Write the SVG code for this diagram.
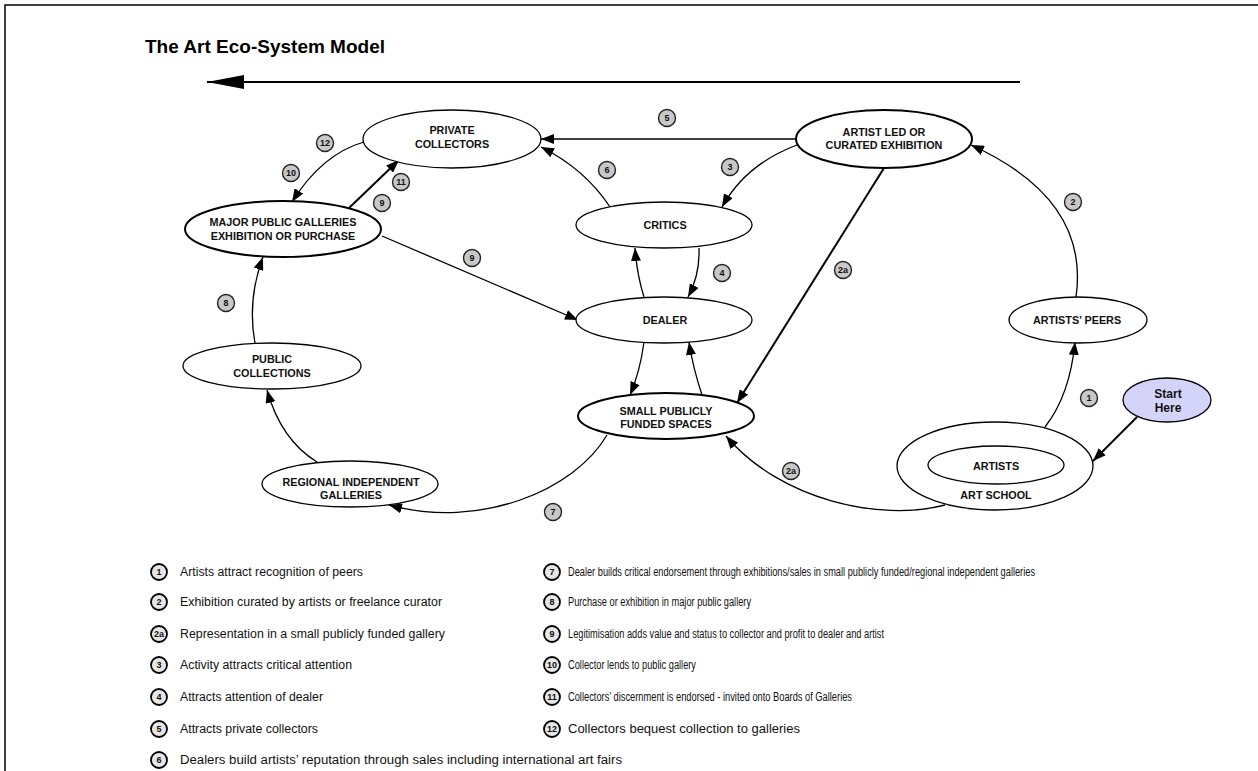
<svg xmlns="http://www.w3.org/2000/svg" width="1258" height="771" viewBox="0 0 1258 771">
<style>
.node{fill:#fff;stroke:#000;stroke-width:1.3}
.thick{stroke-width:2}
.start{fill:#d4d4fa;stroke:#000;stroke-width:1.3}
.lbl{font-family:"Liberation Sans",Arial,sans-serif;font-weight:bold;font-size:10.8px;fill:#111;text-anchor:middle}
.big{font-size:12px}
.con{fill:none;stroke:#000;stroke-width:1.3}
.con2{fill:none;stroke:#000;stroke-width:2}
.badge{fill:#c8c8c8;stroke:#222;stroke-width:1.4}
.lbadge{fill:#e6e6e6;stroke:#000;stroke-width:1.8}
.bt{font-family:"Liberation Sans",Arial,sans-serif;font-weight:bold;font-size:9px;fill:#111;text-anchor:middle}
.leg{font-family:"Liberation Sans",Arial,sans-serif;font-size:12px;fill:#111}
.title{font-family:"Liberation Sans",Arial,sans-serif;font-weight:bold;font-size:19px;fill:#000}
</style>
<defs>
<marker id="ah" markerUnits="userSpaceOnUse" markerWidth="13" markerHeight="10" refX="13" refY="5" orient="auto">
<path d="M0,0 L13,5 L0,10 z" fill="#000"/>
</marker>
<marker id="bigah" markerUnits="userSpaceOnUse" markerWidth="37" markerHeight="14" refX="37" refY="7" orient="auto">
<path d="M0,0 L37,7 L0,14 z" fill="#000"/>
</marker>
</defs>
<g id="frame">
<path d="M5,771 L5,5 L1258,5" fill="none" stroke="#000" stroke-width="1.5"/>
</g>
<text class="title" x="145" y="53">The Art Eco-System Model</text>
<g id="connectors">
<path class="con2" d="M1020,82 L207,82" marker-end="url(#bigah)"/>
<path class="con" d="M797,139 L541,139" marker-end="url(#ah)"/>
<path class="con" d="M797,145 Q746,164 722,207" marker-end="url(#ah)"/>
<path class="con" d="M610,207 Q585,169 541,147" marker-end="url(#ah)"/>
<path class="con" d="M699,248 Q700,275 688,297" marker-end="url(#ah)"/>
<path class="con" d="M644,297 Q637,275 635,248" marker-end="url(#ah)"/>
<path class="con" d="M644,342 Q640,372 630,395" marker-end="url(#ah)"/>
<path class="con" d="M702,395 Q693,368 689,342" marker-end="url(#ah)"/>
<path class="con2" d="M884,168 L737,403" marker-end="url(#ah)"/>
<path class="con" d="M382,236 L578,320" marker-end="url(#ah)"/>
<path class="con2" d="M349,208 L399,160" marker-end="url(#ah)"/>
<path class="con" d="M364,142 Q322,154 292,202" marker-end="url(#ah)"/>
<path class="con" d="M255,343 Q247,300 263,257" marker-end="url(#ah)"/>
<path class="con" d="M317,462 Q281,440 267,390" marker-end="url(#ah)"/>
<path class="con" d="M607,435 C575,490 480,530 389,505" marker-end="url(#ah)"/>
<path class="con" d="M945,505 C880,522 780,500 726,436" marker-end="url(#ah)"/>
<path class="con" d="M1045,427 Q1070,395 1075,342" marker-end="url(#ah)"/>
<path class="con" d="M1076,297 Q1090,199 971,145" marker-end="url(#ah)"/>
<path class="con2" d="M1137,417 L1093,461" marker-end="url(#ah)"/>
</g>
<g id="private-collectors">
<ellipse class="node" cx="452" cy="139" rx="89" ry="29"/>
<text class="lbl" x="452" y="134">PRIVATE</text>
<text class="lbl" x="452" y="148">COLLECTORS</text>
</g>
<g id="major-public-galleries">
<ellipse class="node thick" cx="283" cy="229" rx="98" ry="28"/>
<text class="lbl" x="283" y="226">MAJOR PUBLIC GALLERIES</text>
<text class="lbl" x="283" y="240">EXHIBITION OR PURCHASE</text>
</g>
<g id="artist-led">
<ellipse class="node thick" cx="884" cy="139" rx="88" ry="29"/>
<text class="lbl" x="884" y="135.5">ARTIST LED OR</text>
<text class="lbl" x="884" y="148.5">CURATED EXHIBITION</text>
</g>
<g id="critics">
<ellipse class="node" cx="664" cy="225" rx="88" ry="23"/>
<text class="lbl" x="665" y="229">CRITICS</text>
</g>
<g id="dealer">
<ellipse class="node" cx="664" cy="320" rx="88" ry="23"/>
<text class="lbl" x="665" y="324">DEALER</text>
</g>
<g id="small-publicly-funded">
<ellipse class="node thick" cx="666" cy="416" rx="88" ry="23"/>
<text class="lbl" x="666" y="415">SMALL PUBLICLY</text>
<text class="lbl" x="666" y="428">FUNDED SPACES</text>
</g>
<g id="artists-peers">
<ellipse class="node" cx="1078" cy="320" rx="69" ry="23"/>
<text class="lbl" x="1077" y="324">ARTISTS’ PEERS</text>
</g>
<g id="start-here">
<ellipse class="start" cx="1167" cy="400" rx="44" ry="22"/>
<text class="lbl big" x="1168" y="398">Start</text>
<text class="lbl big" x="1168" y="412">Here</text>
</g>
<g id="art-school">
<ellipse class="node" cx="995" cy="466" rx="98" ry="44"/>
<text class="lbl" x="996" y="499">ART SCHOOL</text>
</g>
<g id="artists">
<ellipse class="node" cx="996" cy="465" rx="68" ry="19"/>
<text class="lbl" x="996" y="470">ARTISTS</text>
</g>
<g id="public-collections">
<ellipse class="node" cx="272" cy="366" rx="89" ry="23"/>
<text class="lbl" x="272" y="363">PUBLIC</text>
<text class="lbl" x="272" y="377">COLLECTIONS</text>
</g>
<g id="regional-galleries">
<ellipse class="node" cx="350" cy="484" rx="88" ry="23"/>
<text class="lbl" x="351" y="486">REGIONAL INDEPENDENT</text>
<text class="lbl" x="351" y="499">GALLERIES</text>
</g>
<g id="badges">
<circle class="badge" cx="667" cy="118" r="8.5"/><text class="bt" x="667" y="121">5</text>
<circle class="badge" cx="730" cy="167" r="8.5"/><text class="bt" x="730" y="170">3</text>
<circle class="badge" cx="607" cy="170" r="8.5"/><text class="bt" x="607" y="173">6</text>
<circle class="badge" cx="722" cy="273" r="8.5"/><text class="bt" x="722" y="276">4</text>
<circle class="badge" cx="843" cy="270" r="8.5"/><text class="bt" x="843" y="273">2a</text>
<circle class="badge" cx="325" cy="143" r="8.5"/><text class="bt" x="325" y="146">12</text>
<circle class="badge" cx="291" cy="173" r="8.5"/><text class="bt" x="291" y="176">10</text>
<circle class="badge" cx="401" cy="182" r="8.5"/><text class="bt" x="401" y="185">11</text>
<circle class="badge" cx="382" cy="203" r="8.5"/><text class="bt" x="382" y="206">9</text>
<circle class="badge" cx="472" cy="258" r="8.5"/><text class="bt" x="472" y="261">9</text>
<circle class="badge" cx="226" cy="303" r="8.5"/><text class="bt" x="226" y="306">8</text>
<circle class="badge" cx="553" cy="512" r="8.5"/><text class="bt" x="553" y="515">7</text>
<circle class="badge" cx="791" cy="471" r="8.5"/><text class="bt" x="791" y="474">2a</text>
<circle class="badge" cx="1089" cy="398" r="8.5"/><text class="bt" x="1089" y="401">1</text>
<circle class="badge" cx="1073" cy="202" r="8.5"/><text class="bt" x="1073" y="205">2</text>
</g>
<g id="legend">
<circle class="lbadge" cx="159" cy="572" r="8"/><text class="bt" x="159" y="575">1</text>
<text class="leg" x="180" y="576" textLength="183" lengthAdjust="spacingAndGlyphs">Artists attract recognition of peers</text>
<circle class="lbadge" cx="159" cy="602" r="8"/><text class="bt" x="159" y="605">2</text>
<text class="leg" x="180" y="606" textLength="262" lengthAdjust="spacingAndGlyphs">Exhibition curated by artists or freelance curator</text>
<circle class="lbadge" cx="159" cy="634" r="8"/><text class="bt" x="159" y="637">2a</text>
<text class="leg" x="180" y="638" textLength="265" lengthAdjust="spacingAndGlyphs">Representation in a small publicly funded gallery</text>
<circle class="lbadge" cx="159" cy="665" r="8"/><text class="bt" x="159" y="668">3</text>
<text class="leg" x="180" y="669" textLength="172" lengthAdjust="spacingAndGlyphs">Activity attracts critical attention</text>
<circle class="lbadge" cx="159" cy="697" r="8"/><text class="bt" x="159" y="700">4</text>
<text class="leg" x="180" y="701" textLength="143" lengthAdjust="spacingAndGlyphs">Attracts attention of dealer</text>
<circle class="lbadge" cx="159" cy="729" r="8"/><text class="bt" x="159" y="732">5</text>
<text class="leg" x="180" y="733" textLength="138" lengthAdjust="spacingAndGlyphs">Attracts private collectors</text>
<circle class="lbadge" cx="159" cy="760" r="8"/><text class="bt" x="159" y="763">6</text>
<text class="leg" x="180" y="764" textLength="442" lengthAdjust="spacingAndGlyphs">Dealers build artists’ reputation through sales including international art fairs</text>
<circle class="lbadge" cx="552" cy="572" r="8"/><text class="bt" x="552" y="575">7</text>
<text class="leg" x="568" y="576" textLength="467" lengthAdjust="spacingAndGlyphs">Dealer builds critical endorsement through exhibitions/sales in small publicly funded/regional independent galleries</text>
<circle class="lbadge" cx="552" cy="602" r="8"/><text class="bt" x="552" y="605">8</text>
<text class="leg" x="568" y="606" textLength="183" lengthAdjust="spacingAndGlyphs">Purchase or exhibition in major public gallery</text>
<circle class="lbadge" cx="552" cy="634" r="8"/><text class="bt" x="552" y="637">9</text>
<text class="leg" x="568" y="638" textLength="316" lengthAdjust="spacingAndGlyphs">Legitimisation adds value and status to collector and profit to dealer and artist</text>
<circle class="lbadge" cx="552" cy="665" r="8"/><text class="bt" x="552" y="668">10</text>
<text class="leg" x="568" y="669" textLength="128" lengthAdjust="spacingAndGlyphs">Collector lends to public gallery</text>
<circle class="lbadge" cx="552" cy="697" r="8"/><text class="bt" x="552" y="700">11</text>
<text class="leg" x="568" y="701" textLength="284" lengthAdjust="spacingAndGlyphs">Collectors’ discernment is endorsed - invited onto Boards of Galleries</text>
<circle class="lbadge" cx="552" cy="729" r="8"/><text class="bt" x="552" y="732">12</text>
<text class="leg" x="568" y="733" style="font-size:13px">Collectors bequest collection to galleries</text>
</g>
</svg>
